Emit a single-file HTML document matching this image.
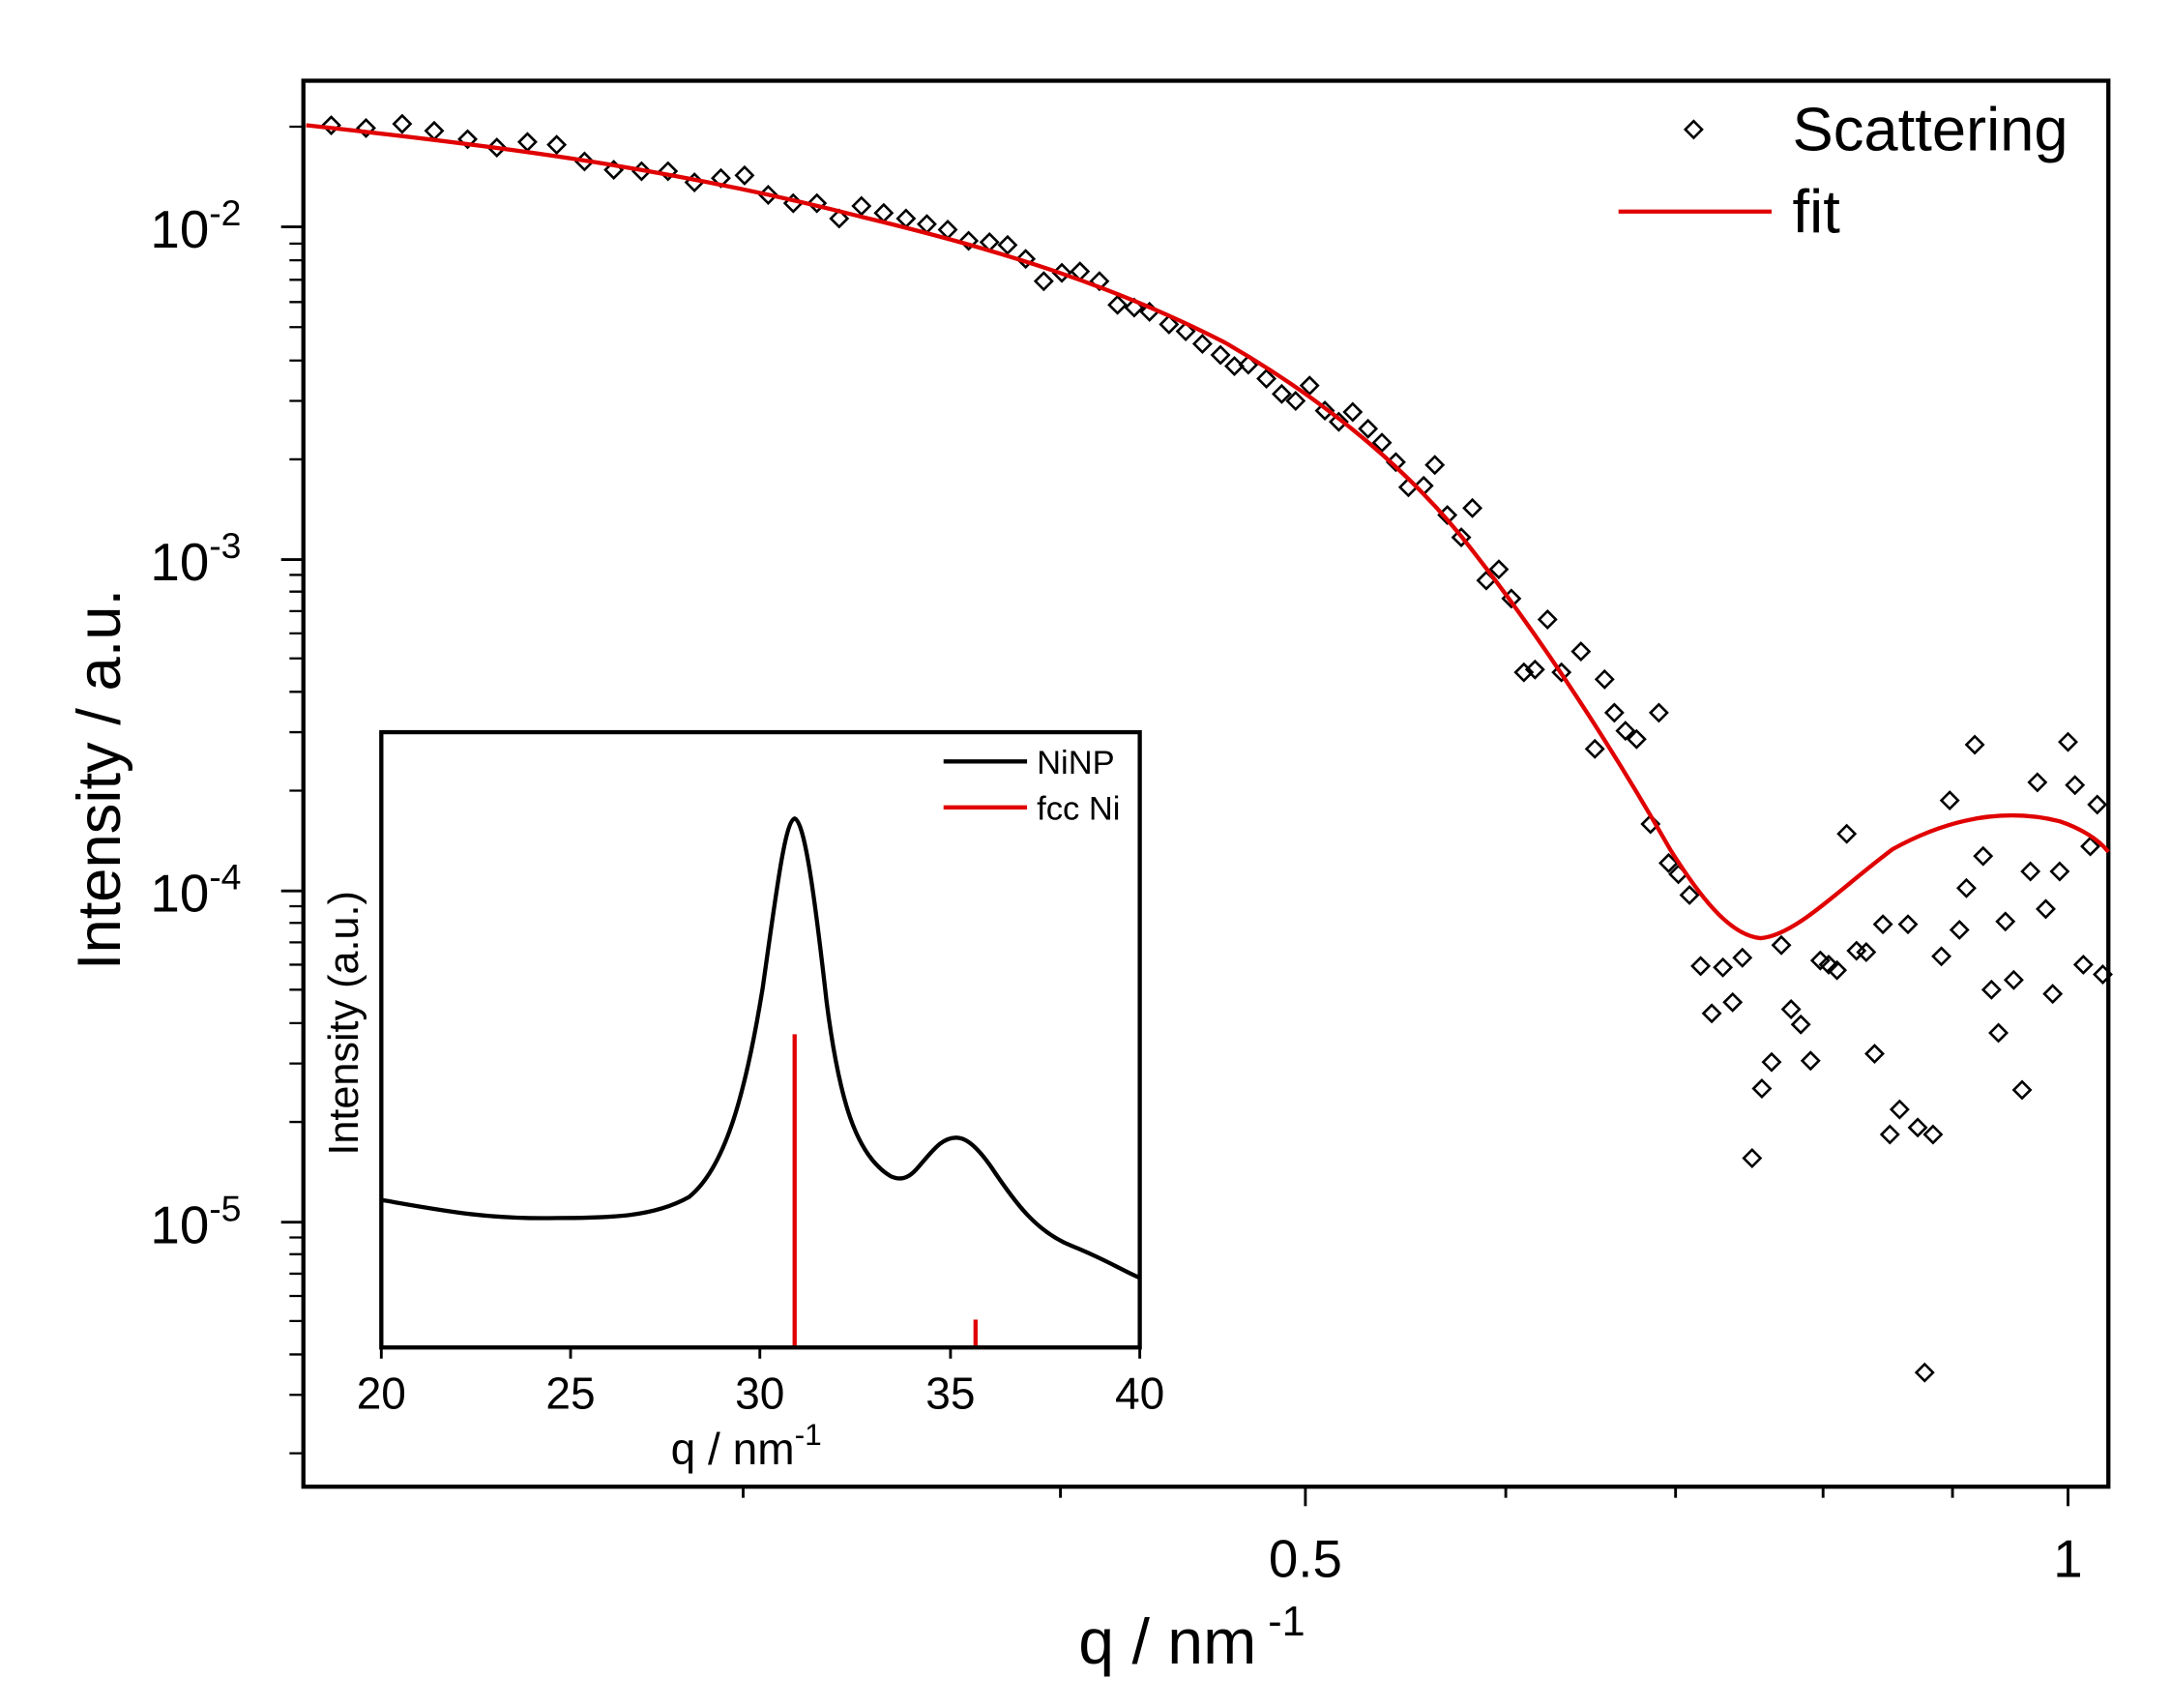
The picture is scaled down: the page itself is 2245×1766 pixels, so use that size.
<!DOCTYPE html>
<html><head><meta charset="utf-8"><style>html,body{margin:0;padding:0;background:#fff}svg{display:block}</style></head>
<body>
<svg width="2245" height="1766" viewBox="0 0 1560 1227" preserveAspectRatio="none" xmlns="http://www.w3.org/2000/svg" xmlns:xlink="http://www.w3.org/1999/xlink" font-family="Liberation Sans, Arial, sans-serif">
<defs><polygon id="d" points="0,-6 6,0 0,6 -6,0" fill="none" stroke="#000" stroke-width="1.8"/></defs>
<rect width="1560" height="1227" fill="#fff"/>
<g stroke="#000" stroke-width="2">
<line x1="202" y1="163" x2="218" y2="163"/><line x1="202" y1="402" x2="218" y2="402"/><line x1="202" y1="640" x2="218" y2="640"/><line x1="202" y1="878" x2="218" y2="878"/>
<line x1="938" y1="1068" x2="938" y2="1082"/><line x1="1486" y1="1068" x2="1486" y2="1082"/>
<line x1="534" y1="1068" x2="534" y2="1076"/><line x1="762" y1="1068" x2="762" y2="1076"/><line x1="1082" y1="1068" x2="1082" y2="1076"/><line x1="1204" y1="1068" x2="1204" y2="1076"/><line x1="1310" y1="1068" x2="1310" y2="1076"/><line x1="1403" y1="1068" x2="1403" y2="1076"/>
</g>
<path stroke="#000" stroke-width="1.6" d="M208 91H218M208 330H218M208 288H218M208 259H218M208 235H218M208 217H218M208 201H218M208 187H218M208 175H218M208 568H218M208 526H218M208 497H218M208 473H218M208 455H218M208 439H218M208 425H218M208 413H218M208 806H218M208 764H218M208 735H218M208 711H218M208 693H218M208 677H218M208 663H218M208 651H218M208 1044H218M208 1002H218M208 973H218M208 949H218M208 931H218M208 915H218M208 901H218M208 889H218"/>
<rect x="218" y="58" width="1297" height="1010" fill="none" stroke="#000" stroke-width="3"/>
<g font-size="38" fill="#000">
<text x="108" y="178">10<tspan font-size="26" dy="-16">-2</tspan></text>
<text x="108" y="417">10<tspan font-size="26" dy="-16">-3</tspan></text>
<text x="108" y="655">10<tspan font-size="26" dy="-16">-4</tspan></text>
<text x="108" y="893">10<tspan font-size="26" dy="-16">-5</tspan></text>
<text x="938" y="1133" text-anchor="middle">0.5</text>
<text x="1486" y="1133" text-anchor="middle">1</text>
</g>
<text x="86" y="560" font-size="44" text-anchor="middle" transform="rotate(-90 86 560)">Intensity / a.u.</text>
<text x="775" y="1195" font-size="46">q / nm<tspan font-size="30" dy="-20"> -1</tspan></text>
<g>
<use xlink:href="#d" x="238" y="90"/><use xlink:href="#d" x="263" y="92"/><use xlink:href="#d" x="289" y="89"/><use xlink:href="#d" x="312" y="94"/><use xlink:href="#d" x="336" y="100"/><use xlink:href="#d" x="357" y="106"/><use xlink:href="#d" x="379" y="102"/><use xlink:href="#d" x="400" y="104"/><use xlink:href="#d" x="420" y="116"/><use xlink:href="#d" x="441" y="122"/><use xlink:href="#d" x="461" y="123"/><use xlink:href="#d" x="480" y="123"/><use xlink:href="#d" x="499" y="131"/><use xlink:href="#d" x="518" y="128"/><use xlink:href="#d" x="535" y="126"/><use xlink:href="#d" x="552" y="140"/><use xlink:href="#d" x="570" y="146"/><use xlink:href="#d" x="587" y="146"/><use xlink:href="#d" x="603" y="157"/><use xlink:href="#d" x="619" y="148"/><use xlink:href="#d" x="635" y="153"/><use xlink:href="#d" x="651" y="157"/><use xlink:href="#d" x="666" y="161"/><use xlink:href="#d" x="681" y="165"/><use xlink:href="#d" x="696" y="173"/><use xlink:href="#d" x="711" y="174"/><use xlink:href="#d" x="724" y="176"/><use xlink:href="#d" x="737" y="186"/><use xlink:href="#d" x="750" y="202"/><use xlink:href="#d" x="763" y="196"/><use xlink:href="#d" x="776" y="195"/><use xlink:href="#d" x="790" y="202"/><use xlink:href="#d" x="803" y="219"/><use xlink:href="#d" x="815" y="221"/><use xlink:href="#d" x="826" y="224"/><use xlink:href="#d" x="840" y="233"/><use xlink:href="#d" x="852" y="238"/><use xlink:href="#d" x="864" y="247"/><use xlink:href="#d" x="877" y="255"/><use xlink:href="#d" x="887" y="263"/><use xlink:href="#d" x="897" y="262"/><use xlink:href="#d" x="910" y="272"/><use xlink:href="#d" x="921" y="283"/><use xlink:href="#d" x="931" y="288"/><use xlink:href="#d" x="941" y="277"/><use xlink:href="#d" x="952" y="295"/><use xlink:href="#d" x="962" y="303"/><use xlink:href="#d" x="972" y="296"/><use xlink:href="#d" x="983" y="308"/><use xlink:href="#d" x="993" y="318"/><use xlink:href="#d" x="1003" y="332"/><use xlink:href="#d" x="1012" y="350"/><use xlink:href="#d" x="1023" y="349"/><use xlink:href="#d" x="1031" y="334"/><use xlink:href="#d" x="1040" y="370"/><use xlink:href="#d" x="1050" y="386"/><use xlink:href="#d" x="1058" y="365"/><use xlink:href="#d" x="1068" y="417"/><use xlink:href="#d" x="1077" y="409"/><use xlink:href="#d" x="1086" y="430"/><use xlink:href="#d" x="1095" y="483"/><use xlink:href="#d" x="1103" y="481"/><use xlink:href="#d" x="1112" y="445"/><use xlink:href="#d" x="1122" y="483"/><use xlink:href="#d" x="1136" y="468"/><use xlink:href="#d" x="1146" y="538"/><use xlink:href="#d" x="1153" y="488"/><use xlink:href="#d" x="1160" y="512"/><use xlink:href="#d" x="1168" y="525"/><use xlink:href="#d" x="1176" y="531"/><use xlink:href="#d" x="1192" y="512"/><use xlink:href="#d" x="1186" y="592"/><use xlink:href="#d" x="1199" y="620"/><use xlink:href="#d" x="1206" y="628"/><use xlink:href="#d" x="1214" y="643"/><use xlink:href="#d" x="1222" y="694"/><use xlink:href="#d" x="1230" y="728"/><use xlink:href="#d" x="1238" y="695"/><use xlink:href="#d" x="1245" y="720"/><use xlink:href="#d" x="1252" y="688"/><use xlink:href="#d" x="1259" y="832"/><use xlink:href="#d" x="1266" y="782"/><use xlink:href="#d" x="1273" y="763"/><use xlink:href="#d" x="1280" y="679"/><use xlink:href="#d" x="1287" y="725"/><use xlink:href="#d" x="1294" y="736"/><use xlink:href="#d" x="1301" y="762"/><use xlink:href="#d" x="1308" y="690"/><use xlink:href="#d" x="1314" y="693"/><use xlink:href="#d" x="1320" y="697"/><use xlink:href="#d" x="1327" y="599"/><use xlink:href="#d" x="1334" y="683"/><use xlink:href="#d" x="1341" y="684"/><use xlink:href="#d" x="1347" y="757"/><use xlink:href="#d" x="1353" y="664"/><use xlink:href="#d" x="1358" y="815"/><use xlink:href="#d" x="1365" y="797"/><use xlink:href="#d" x="1371" y="664"/><use xlink:href="#d" x="1378" y="810"/><use xlink:href="#d" x="1383" y="986"/><use xlink:href="#d" x="1389" y="815"/><use xlink:href="#d" x="1395" y="687"/><use xlink:href="#d" x="1401" y="575"/><use xlink:href="#d" x="1408" y="668"/><use xlink:href="#d" x="1413" y="638"/><use xlink:href="#d" x="1419" y="535"/><use xlink:href="#d" x="1425" y="615"/><use xlink:href="#d" x="1431" y="711"/><use xlink:href="#d" x="1436" y="742"/><use xlink:href="#d" x="1441" y="662"/><use xlink:href="#d" x="1447" y="704"/><use xlink:href="#d" x="1453" y="783"/><use xlink:href="#d" x="1459" y="626"/><use xlink:href="#d" x="1464" y="562"/><use xlink:href="#d" x="1470" y="653"/><use xlink:href="#d" x="1475" y="714"/><use xlink:href="#d" x="1480" y="626"/><use xlink:href="#d" x="1486" y="533"/><use xlink:href="#d" x="1491" y="564"/><use xlink:href="#d" x="1497" y="693"/><use xlink:href="#d" x="1502" y="608"/><use xlink:href="#d" x="1507" y="578"/><use xlink:href="#d" x="1511" y="700"/>
</g>
<path fill="none" stroke="#e00000" stroke-width="3" d="M220,90 C350,104 480,120 620,156 C720,180 800,205 880,246 C960,292 1020,345 1060,398 C1110,462 1160,540 1200,610 C1225,650 1245,672 1265,674 C1290,672 1320,640 1360,610 C1400,588 1440,580 1480,590 C1495,595 1508,603 1515,612"/>
<use xlink:href="#d" x="1217" y="93"/>
<text x="1288" y="108" font-size="44">Scattering</text>
<line x1="1163" y1="152" x2="1273" y2="152" stroke="#e00000" stroke-width="3"/>
<text x="1288" y="167" font-size="44">fit</text>
<rect x="274" y="526" width="545" height="442" fill="#fff"/>
<line x1="571" y1="743" x2="571" y2="968" stroke="#e00000" stroke-width="3"/>
<line x1="701" y1="948" x2="701" y2="968" stroke="#e00000" stroke-width="3"/>
<path fill="none" stroke="#000" stroke-width="3" d="M274,862 C320,870 350,876 400,875 C440,875 470,874 495,860 C520,840 535,790 548,710 C558,640 564,590 571,588 C578,590 585,640 594,720 C603,790 615,830 640,845 C655,852 660,835 675,822 C688,812 698,818 712,838 C730,865 745,885 770,895 C795,905 805,912 819,918"/>
<rect x="274" y="526" width="545" height="442" fill="none" stroke="#000" stroke-width="3"/>
<g stroke="#000" stroke-width="2"><line x1="274" y1="968" x2="274" y2="976"/><line x1="410" y1="968" x2="410" y2="976"/><line x1="546" y1="968" x2="546" y2="976"/><line x1="683" y1="968" x2="683" y2="976"/><line x1="819" y1="968" x2="819" y2="976"/></g>
<g font-size="32" text-anchor="middle"><text x="274" y="1012">20</text><text x="410" y="1012">25</text><text x="546" y="1012">30</text><text x="683" y="1012">35</text><text x="819" y="1012">40</text></g>
<text x="482" y="1052" font-size="32">q / nm<tspan font-size="22" dy="-14">-1</tspan></text>
<text x="257" y="735" font-size="30" text-anchor="middle" transform="rotate(-90 257 735)">Intensity (a.u.)</text>
<line x1="678" y1="547" x2="738" y2="547" stroke="#000" stroke-width="3"/>
<text x="745" y="556" font-size="24">NiNP</text>
<line x1="678" y1="580" x2="738" y2="580" stroke="#e00000" stroke-width="3"/>
<text x="745" y="589" font-size="24">fcc Ni</text>
</svg>
</body></html>
